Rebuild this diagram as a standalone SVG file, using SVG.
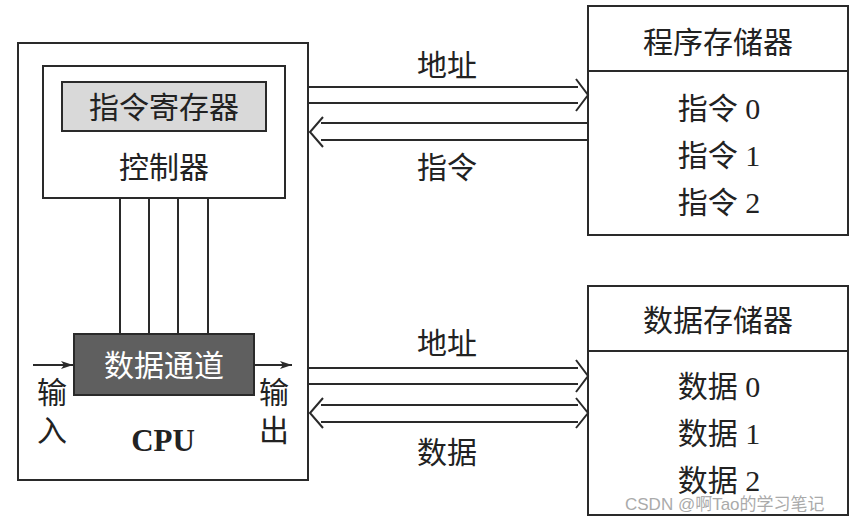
<svg xmlns="http://www.w3.org/2000/svg" width="862" height="524" viewBox="0 0 862 524">
<style>
.b{fill:#fff;stroke:#2a2a2a;stroke-width:2}
.t{font-family:"Liberation Serif","Noto Sans CJK SC",serif;font-size:30px;fill:#222;text-anchor:middle;dominant-baseline:central}
.c{fill:none;stroke:#2a2a2a;stroke-width:2}
</style>
<defs>
<marker id="ar" viewBox="0 0 12 10" refX="12" refY="5" markerWidth="12" markerHeight="10" markerUnits="userSpaceOnUse" orient="auto"><path d="M0,1 L12,5 L0,9 L3,5 Z" fill="#2a2a2a"/></marker>
</defs>
<rect width="862" height="524" fill="#fff"/>
<g id="cpu">
<rect class="b" x="18" y="43" width="290" height="437"/>
<text x="163" y="440" style="font-family:'Liberation Serif',serif;font-size:31px;font-weight:bold;fill:#222;text-anchor:middle;dominant-baseline:central">CPU</text>
</g>
<g id="controller">
<rect class="b" x="43" y="66" width="242" height="132"/>
<text class="t" x="164" y="167">控制器</text>
</g>
<g id="ir">
<rect x="62" y="82" width="204" height="49" fill="#d9d9d9" stroke="#2a2a2a" stroke-width="2"/>
<text class="t" x="164" y="107">指令寄存器</text>
</g>
<g id="datapath">
<rect x="74" y="334" width="180" height="61" fill="#5f5f5f" stroke="#2a2a2a" stroke-width="2"/>
<text class="t" x="164" y="365" style="fill:#fff">数据通道</text>
</g>
<g id="in-label">
<text class="t" x="52" y="392">输</text>
<text class="t" x="52" y="430">入</text>
</g>
<g id="out-label">
<text class="t" x="274" y="392">输</text>
<text class="t" x="274" y="430">出</text>
</g>
<g id="progmem">
<rect class="b" x="588" y="6" width="260" height="229"/>
<line class="c" x1="588" y1="71" x2="848" y2="71"/>
<text class="t" x="718" y="42">程序存储器</text>
<text class="t" x="719" y="108">指令 0</text>
<text class="t" x="719" y="155">指令 1</text>
<text class="t" x="719" y="202">指令 2</text>
</g>
<g id="datamem">
<rect class="b" x="588" y="286" width="260" height="229"/>
<line class="c" x1="588" y1="351" x2="848" y2="351"/>
<text class="t" x="718" y="320">数据存储器</text>
<text class="t" x="719" y="386">数据 0</text>
<text class="t" x="719" y="433">数据 1</text>
<text class="t" x="719" y="480">数据 2</text>
</g>
<g id="connectors">
<line class="c" x1="120" y1="198" x2="120" y2="334"/>
<line class="c" x1="149" y1="198" x2="149" y2="334"/>
<line class="c" x1="178" y1="198" x2="178" y2="334"/>
<line class="c" x1="208" y1="198" x2="208" y2="334"/>
<line class="c" x1="33" y1="365" x2="73" y2="365" marker-end="url(#ar)"/>
<line class="c" x1="254" y1="365" x2="292" y2="365" marker-end="url(#ar)"/>
<path class="c" d="M308,87 H578 M308,103 H578 M576,79 L588,95 L576,111"/>
<path class="c" d="M588,123 H321 M588,140 H321 M323,117 L310,132 L323,147"/>
<path class="c" d="M308,368 H578 M308,384 H578 M576,360 L588,376 L576,392"/>
<path class="c" d="M321,405 H578 M321,422 H578 M323,398 L310,413 L323,428 M576,398 L588,413 L576,428"/>
<text class="t" x="447" y="65">地址</text>
<text class="t" x="447" y="167">指令</text>
<text class="t" x="447" y="343">地址</text>
<text class="t" x="447" y="452">数据</text>
</g>
<text x="625" y="510" style="font-family:'Liberation Sans','Noto Sans CJK SC',sans-serif;font-size:17px;fill:#aaa">CSDN @啊Tao的学习笔记</text>
</svg>
